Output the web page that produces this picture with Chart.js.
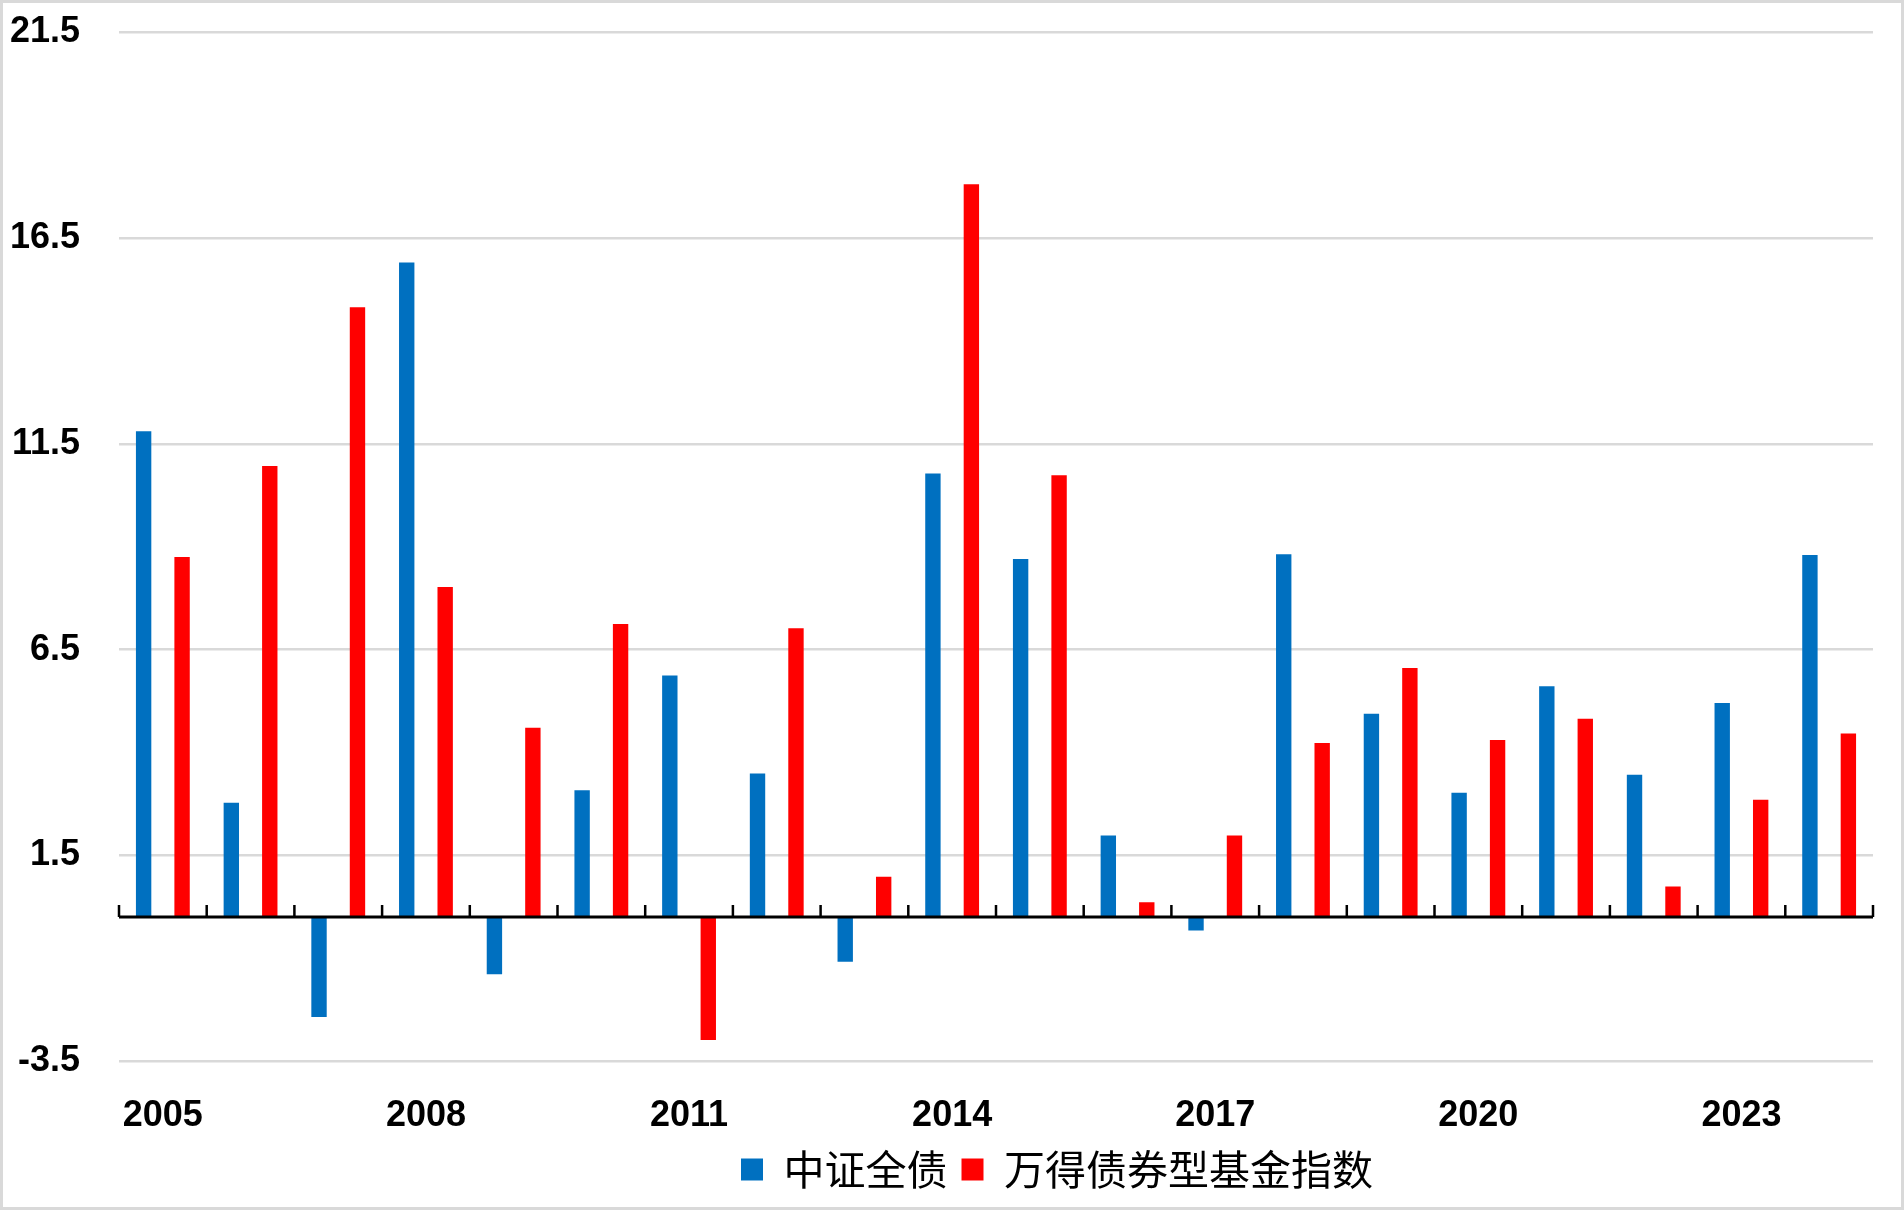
<!DOCTYPE html>
<html>
<head>
<meta charset="utf-8">
<script src="https://cdn.jsdelivr.net/npm/chart.js@4/dist/chart.umd.min.js"></script>
<style>
  html, body { margin: 0; padding: 0; background: #fff; }
  #wrap {
    width: 1904px; height: 1210px; box-sizing: border-box;
    border: 3px solid #d9d9d9; position: relative; background: #fff;
  }
</style>
</head>
<body>
<div id="wrap"><canvas id="bondChart"></canvas></div>
<script>
// yearly returns (%)
const years = ['2005', '2006', '2007', '2008', '2009', '2010', '2011', '2012', '2013', '2014',
               '2015', '2016', '2017', '2018', '2019', '2020', '2021', '2022', '2023', '2024'];
const shownYears = ['2005', '2008', '2011', '2014', '2017', '2020', '2023'];
const bondIndex = [11.81, 2.78, -2.43, 15.91, -1.39, 3.08, 5.87, 3.49, -1.09, 10.78,
                   8.70, 1.98, -0.33, 8.82, 4.94, 3.02, 5.61, 3.46, 5.20, 8.80];
const fundIndex = [8.75, 10.96, 14.82, 8.02, 4.60, 7.12, -2.99, 7.02, 0.98, 17.81,
                   10.74, 0.36, 1.98, 4.23, 6.05, 4.30, 4.82, 0.74, 2.85, 4.46];
const yTicks = [-3.5, 1.5, 6.5, 11.5, 16.5, 21.5];

const tickFont = { family: "'Liberation Sans', Arial, sans-serif", size: 36, weight: 'bold' };

// black zero line with small upward tick marks between the years
const zeroAxis = {
    id: 'zeroAxis',
    afterDatasetsDraw(chart) {
        const { ctx, chartArea, scales } = chart;
        const y0 = scales.y.getPixelForValue(0);
        const n = years.length;
        const step = (chartArea.right - chartArea.left) / n;
        ctx.save();
        ctx.strokeStyle = '#000';
        ctx.lineWidth = 3;
        ctx.beginPath();
        ctx.moveTo(chartArea.left, y0);
        ctx.lineTo(chartArea.right, y0);
        ctx.stroke();
        ctx.lineWidth = 2.5;
        ctx.beginPath();
        for (let i = 0; i <= n; i++) {
            const x = chartArea.left + i * step;
            ctx.moveTo(x, y0);
            ctx.lineTo(x, y0 - 12);
        }
        ctx.stroke();
        ctx.restore();
    }
};

// legend sits a bit right of centre in the original
const legendShift = {
    id: 'legendShift',
    afterLayout(chart) {
        const lg = chart.legend;
        if (!lg) return;
        lg.left += 119; lg.right += 119;
    }
};

const ctx = document.getElementById('bondChart').getContext('2d');
const chart = new Chart(ctx, {
    type: 'bar',
    data: {
        labels: years,
        datasets: [{
            label: '中证全债',
            data: bondIndex,
            backgroundColor: '#0070C0',
            borderWidth: 0
        }, {
            label: '万得债券型基金指数',
            data: fundIndex,
            backgroundColor: '#FF0000',
            borderWidth: 0
        }]
    },
    options: {
        animation: false,
        responsive: true,
        maintainAspectRatio: false,
        devicePixelRatio: 1,
        categoryPercentage: 0.877,
        barPercentage: 0.4,
        layout: { padding: { left: 0, right: 28, top: 29.5, bottom: 7 } },
        plugins: {
            tooltip: { enabled: false },
            legend: {
                position: 'bottom',
                labels: {
                    boxWidth: 22,
                    boxHeight: 22,
                    padding: 14,
                    color: '#000',
                    font: { family: "'Noto Sans CJK SC', sans-serif", size: 41 }
                }
            }
        },
        scales: {
            x: {
                afterFit: s => { s.height = 74; },
                grid: { display: false, drawTicks: false },
                border: { display: false },
                ticks: {
                    autoSkip: false,
                    maxRotation: 0,
                    padding: 33,
                    color: '#000',
                    font: tickFont,
                    callback: function (v) {
                        const lab = this.getLabelForValue(v);
                        return shownYears.includes(lab) ? lab : '';
                    }
                }
            },
            y: {
                min: -3.5,
                max: 21.5,
                afterBuildTicks: s => { s.ticks = yTicks.map(v => ({ value: v })); },
                afterFit: s => { s.width = 116; },
                grid: { color: '#d9d9d9', lineWidth: 2.5, drawTicks: true, tickLength: 39, tickColor: 'rgba(0,0,0,0)' },
                border: { display: false },
                ticks: {
                    padding: 0,
                    color: '#000',
                    font: tickFont,
                    callback: v => v.toFixed(1)
                }
            }
        }
    },
    plugins: [zeroAxis, legendShift]
});
</script>
</body>
</html>
